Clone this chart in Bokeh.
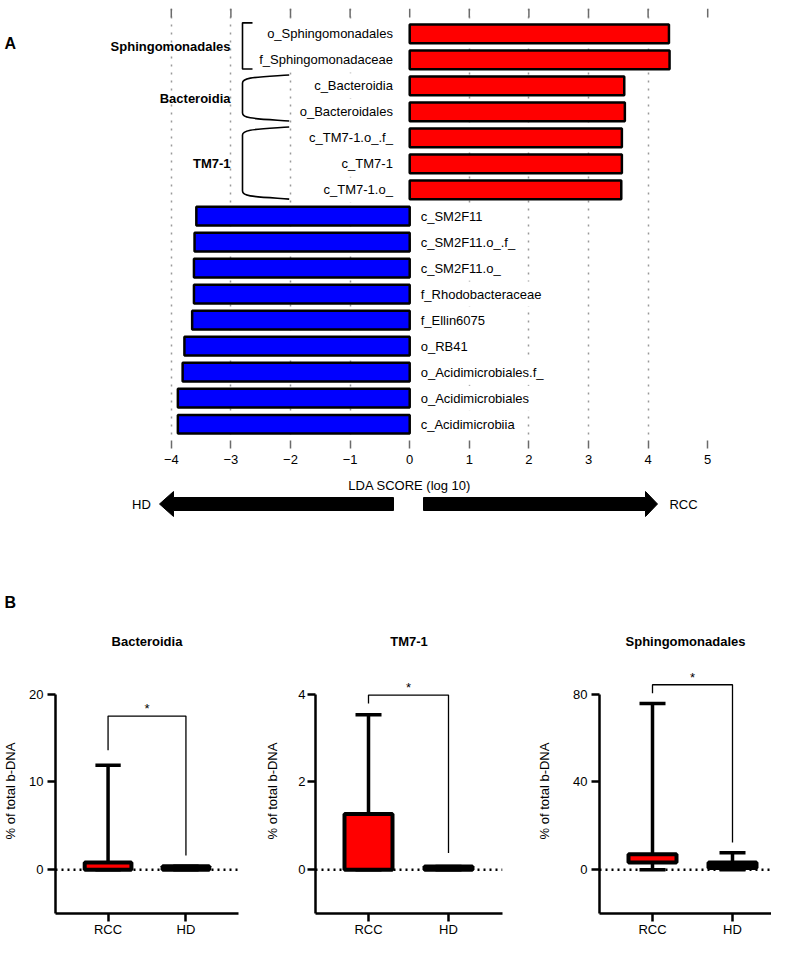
import numpy as np
from bokeh.plotting import figure
from bokeh.models import Range1d, FixedTicker, Span, ColumnDataSource
from bokeh.layouts import column, row
from bokeh.embed import file_html
from bokeh.resources import INLINE
from bokeh.core.properties import value

FONT_NAME = "Liberation Sans"
FONT = value(FONT_NAME)

# ---------------- data: panel A (LEfSe LDA scores) ----------------
FEATURES = ["o_Sphingomonadales", "f_Sphingomonadaceae", "c_Bacteroidia", "o_Bacteroidales",
            "c_TM7-1.o_.f_", "c_TM7-1", "c_TM7-1.o_", "c_SM2F11", "c_SM2F11.o_.f_",
            "c_SM2F11.o_", "f_Rhodobacteraceae", "f_Ellin6075", "o_RB41",
            "o_Acidimicrobiales.f_", "o_Acidimicrobiales", "c_Acidimicrobiia"]
LDA_SCORES = [4.35, 4.36, 3.60, 3.61, 3.56, 3.56, 3.55, -3.58, -3.61, -3.62, -3.62,
              -3.65, -3.78, -3.81, -3.89, -3.89]
CLADE_NAMES = ["Sphingomonadales", "Bacteroidia", "TM7-1"]
CLADE_FIRST = [0, 2, 4]
CLADE_LAST = [1, 3, 6]
CLADE_SHAPE = ["square", "curly", "curly"]
LDA_TICKS = [-4, -3, -2, -1, 0, 1, 2, 3, 4, 5]
GRID_TICKS = [-4, -3, -2, -1, 1, 2, 3, 4]
X_LABEL = "LDA SCORE (log 10)"
CLASS_LEFT = "HD"
CLASS_RIGHT = "RCC"

# ---------------- data: panel B (box plots) ----------------
GROUPS = ["RCC", "HD"]
GROUP_FILL = ["#FF0000", "#000000"]
PANEL_TITLES = ["Bacteroidia", "TM7-1", "Sphingomonadales"]
Y_TICKS = [[0, 10, 20], [0, 2, 4], [0, 40, 80]]
Y_LIMITS = [(-5, 20), (-1, 4), (-20, 80)]
BOX_MIN = [[0, 0], [0, 0], [0, 0]]
BOX_Q1 = [[0, 0], [0, 0], [3.2, 0.7]]
BOX_MED = [[0.5, 0.0], [0, 0], [5.5, 2.0]]
BOX_Q3 = [[0.8, 0.4], [1.27, 0.07], [7.0, 3.3]]
BOX_MAX = [[11.9, 0.4], [3.53, 0.07], [75.7, 7.7]]
SIG_LEFT = [13.6, 3.79, 80.4]
SIG_TOP = [17.5, 3.98, 84.3]
SIG_RIGHT = [1.6, 0.38, 12.4]
SIG_TEXT = ["*", "*", "*"]
Y_LABEL = "% of total b-DNA"

# ---------------- layout helpers (canvas pixels) ----------------
X0_PX, UNIT_PX = 409.2, 59.6
ROW0_PX, ROW_PX = 33.3, 26.03
TOTAL_W = 771


def lx(px):
    return (px - X0_PX) / UNIT_PX


def ry(py):
    return (py - ROW0_PX) / ROW_PX


TICK_GRAY = "#6b6b6b"
FA_FRAME_TOP, FA_FRAME_BOT, FA_BOT = 8, 440, 476

# ---------------- figure A ----------------
pa = figure(width=TOTAL_W, height=FA_BOT,
            x_range=Range1d(lx(0), lx(TOTAL_W)), y_range=Range1d(ry(FA_FRAME_BOT), ry(FA_FRAME_TOP)),
            output_backend="svg", toolbar_location=None,
            x_axis_location="below", y_axis_location=None,
            min_border_left=0, min_border_right=0,
            min_border_top=FA_FRAME_TOP, min_border_bottom=FA_BOT - FA_FRAME_BOT,
            outline_line_color=None)
pa.ygrid.visible = False
pa.xgrid.ticker = FixedTicker(ticks=GRID_TICKS)
pa.xgrid.grid_line_color = "#9a9a9a"
pa.xgrid.grid_line_dash = "2 6"
pa.xgrid.grid_line_width = 1.5

xa = pa.xaxis[0]
xa.ticker = FixedTicker(ticks=LDA_TICKS)
xa.axis_line_color = None
xa.major_tick_in = 0
xa.major_tick_out = 8
xa.major_tick_line_color = TICK_GRAY
xa.major_tick_line_width = 1.5
xa.minor_tick_line_color = None
xa.major_label_text_font = FONT_NAME
xa.major_label_text_font_size = "13px"
xa.major_label_text_color = "black"
xa.major_label_standoff = 6

# top tick marks (mirror of the x ticks, drawn at the top of the frame)
pa.segment(x0=LDA_TICKS, y0=ry(8), x1=LDA_TICKS, y1=ry(17),
           line_color=TICK_GRAY, line_width=1.5)

rows = np.arange(len(FEATURES))
scores = np.array(LDA_SCORES)
colors = ["#FF0000" if v > 0 else "#0000FF" for v in LDA_SCORES]
src = ColumnDataSource(dict(y=rows, right=scores, color=colors, name=FEATURES))
pa.hbar(y="y", left=0, right="right", height=0.72, fill_color="color",
        line_color="black", line_width=2.5, source=src)

pos = scores > 0
neg = ~pos
pa.text(x=np.zeros(pos.sum()), y=rows[pos], text=[FEATURES[i] for i in rows[pos]],
        text_align="right", text_baseline="middle", x_offset=-11.8,
        text_font=FONT, text_font_size="13px", text_color="black",
        background_fill_color="white", padding=5)
pa.text(x=np.zeros(neg.sum()), y=rows[neg], text=[FEATURES[i] for i in rows[neg]],
        text_align="left", text_baseline="middle", x_offset=6,
        text_font=FONT, text_font_size="13px", text_color="black",
        background_fill_color="white", padding=5)

# clade brackets and names
xl = lx(242)
r_rows = 8 / ROW_PX
for name, f, l, shape in zip(CLADE_NAMES, CLADE_FIRST, CLADE_LAST, CLADE_SHAPE):
    yt, yb = f - 0.42, l + 0.35
    if shape == "square":
        xs = lx(252)
        pa.line(x=[xs, xl, xl, xs], y=[yt, yt, yb, yb], line_color="black", line_width=1.6)
    else:
        xe = lx(288.7)
        w = xe - xl
        pa.line(x=[xl, xl], y=[yt + r_rows, yb - r_rows], line_color="black", line_width=1.6)
        pa.bezier(x0=[xe, xe], y0=[yt, yb], x1=[xl, xl], y1=[yt + r_rows, yb - r_rows],
                  cx0=[xl + 0.25 * w, xl + 0.25 * w], cy0=[yt + 0.3 * r_rows, yb - 0.3 * r_rows],
                  cx1=[xl, xl], cy1=[yt + 0.3 * r_rows, yb - 0.3 * r_rows],
                  line_color="black", line_width=1.6)
    pa.text(x=[lx(230)], y=[(f + l) / 2], text=[name], text_align="right",
            text_baseline="middle", text_font=FONT, text_font_size="13px",
            text_font_style="bold", text_color="black")

pa.text(x=[lx(4)], y=[ry(43)], text=["A"], text_align="left", text_baseline="middle",
        text_font=FONT, text_font_size="16px", text_font_style="bold", text_color="black")

# ---------------- figure A2: axis title + class arrows + "B" ----------------
F2_TOP, F2_BOT = FA_BOT, 612
h2 = F2_BOT - F2_TOP
pa2 = figure(width=TOTAL_W, height=h2, x_range=pa.x_range, y_range=Range1d(h2, 0),
             output_backend="svg", toolbar_location=None,
             x_axis_location=None, y_axis_location=None,
             min_border_left=0, min_border_right=0, min_border_top=0, min_border_bottom=0,
             outline_line_color=None)
pa2.xgrid.visible = False
pa2.ygrid.visible = False
pa2.text(x=[0], y=[485 - F2_TOP], text=[X_LABEL], text_align="center", text_baseline="middle",
         text_font=FONT, text_font_size="13px", text_color="black")
yc = 503.5 - F2_TOP
sh, hh = 6.5, 12.5
left_arrow_x = [lx(159), lx(173), lx(173), lx(393), lx(393), lx(173), lx(173)]
right_arrow_x = [lx(657), lx(645), lx(645), lx(423), lx(423), lx(645), lx(645)]
arrow_y = [yc, yc - hh, yc - sh, yc - sh, yc + sh, yc + sh, yc + hh]
pa2.patches(xs=[left_arrow_x, right_arrow_x], ys=[arrow_y, arrow_y],
            fill_color="black", line_color="black", line_width=1)
pa2.text(x=[lx(141), lx(683)], y=[yc, yc], text=[CLASS_LEFT, CLASS_RIGHT],
         text_align="center", text_baseline="middle",
         text_font=FONT, text_font_size="13px", text_color="black")
pa2.text(x=[lx(4)], y=[602 - F2_TOP], text=["B"], text_align="left", text_baseline="middle",
         text_font=FONT, text_font_size="16px", text_font_style="bold", text_color="black")

# ---------------- panel B figures ----------------
ROW_TOP, FRAME_TOP, AXIS_TOP_PX, FRAME_BOT, ROW_BOT = F2_BOT, 668, 694, 916, 939
FIG_SPECS = [(0, 50, 238, 262), (262, 315, 502, 526), (526, 599, 771, 771)]
RCC_PX = [104, 368, 652]
GROUP_PX = 80.0
TICK_STANDOFF = [4, 2, 4]
YLABEL_STANDOFF = [8, 15, 18]

bfigs = []
for i in range(3):
    fl, frl, frr, fr = FIG_SPECS[i]
    lo, hi = Y_LIMITS[i]
    s = (FRAME_BOT - AXIS_TOP_PX) / (hi - lo)
    y_end = hi + (AXIS_TOP_PX - FRAME_TOP) / s
    x_start = 1 - (RCC_PX[i] - frl) / GROUP_PX
    x_end = 1 + (frr - RCC_PX[i]) / GROUP_PX
    p = figure(width=fr - fl, height=ROW_BOT - ROW_TOP,
               x_range=Range1d(x_start, x_end), y_range=Range1d(lo, y_end),
               output_backend="svg", toolbar_location=None,
               min_border_left=frl - fl, min_border_right=fr - frr,
               min_border_top=FRAME_TOP - ROW_TOP, min_border_bottom=ROW_BOT - FRAME_BOT,
               outline_line_color=None, title=PANEL_TITLES[i])
    p.title.align = "center"
    p.title.text_font = FONT_NAME
    p.title.text_font_size = "13px"
    p.title.text_font_style = "bold"
    p.title.text_color = "black"
    p.title.standoff = 39
    p.xgrid.visible = False
    p.ygrid.visible = False

    ya = p.yaxis[0]
    ya.ticker = FixedTicker(ticks=Y_TICKS[i])
    ya.bounds = (lo, hi)
    ya.axis_line_width = 2.5
    ya.axis_line_color = "black"
    ya.major_tick_line_width = 2.5
    ya.major_tick_line_color = "black"
    ya.major_tick_out = 8
    ya.major_tick_in = 0
    ya.minor_tick_line_color = None
    ya.major_label_text_font = FONT_NAME
    ya.major_label_text_font_size = "13px"
    ya.major_label_text_color = "black"
    ya.major_label_standoff = TICK_STANDOFF[i]
    ya.axis_label = Y_LABEL
    ya.axis_label_text_font = FONT_NAME
    ya.axis_label_text_font_size = "13px"
    ya.axis_label_text_font_style = "normal"
    ya.axis_label_text_color = "black"
    ya.axis_label_standoff = YLABEL_STANDOFF[i]

    xa2 = p.xaxis[0]
    xa2.ticker = FixedTicker(ticks=[1, 2])
    xa2.major_label_overrides = {1: GROUPS[0], 2: GROUPS[1]}
    xa2.axis_line_width = 2.5
    xa2.axis_line_color = "black"
    xa2.major_tick_line_width = 2.5
    xa2.major_tick_line_color = "black"
    xa2.major_tick_out = 8
    xa2.major_tick_in = 0
    xa2.minor_tick_line_color = None
    xa2.major_label_text_font = FONT_NAME
    xa2.major_label_text_font_size = "13px"
    xa2.major_label_text_color = "black"
    xa2.major_label_standoff = 0

    zero = Span(location=0, dimension="width", line_color="black", line_dash="2 4",
                line_width=2.5, level="underlay")
    p.add_layout(zero)

    gx = np.arange(1, len(GROUPS) + 1)
    bmin, bq1, bmed = np.array(BOX_MIN[i]), np.array(BOX_Q1[i]), np.array(BOX_MED[i])
    bq3, bmax = np.array(BOX_Q3[i]), np.array(BOX_MAX[i])
    hw, cw = 0.3, 0.1625
    p.segment(x0=gx, y0=bq3, x1=gx, y1=bmax, line_color="black", line_width=3.5)
    p.segment(x0=gx, y0=bq1, x1=gx, y1=bmin, line_color="black", line_width=3.5)
    p.segment(x0=gx - cw, y0=bmax, x1=gx + cw, y1=bmax, line_color="black", line_width=3.5)
    p.segment(x0=gx - cw, y0=bmin, x1=gx + cw, y1=bmin, line_color="black", line_width=3.5)
    p.quad(left=gx - hw, right=gx + hw, bottom=bq1, top=bq3, fill_color=GROUP_FILL,
           line_color=None)
    p.segment(x0=gx - hw, y0=bmed, x1=gx + hw, y1=bmed, line_color=GROUP_FILL, line_width=2)
    p.quad(left=gx - hw, right=gx + hw, bottom=bq1, top=bq3, fill_color=None,
           line_color="black", line_width=4)

    p.line(x=[1, 1, 2, 2], y=[SIG_LEFT[i], SIG_TOP[i], SIG_TOP[i], SIG_RIGHT[i]],
           line_color="black", line_width=1.3)
    p.text(x=[1.5], y=[SIG_TOP[i]], text=[SIG_TEXT[i]], text_align="center",
           text_baseline="bottom", text_font=FONT, text_font_size="13px", text_color="black")
    bfigs.append(p)

layout = column(pa, pa2, row(*bfigs))
open("out.html", "w").write(file_html(layout, INLINE))
